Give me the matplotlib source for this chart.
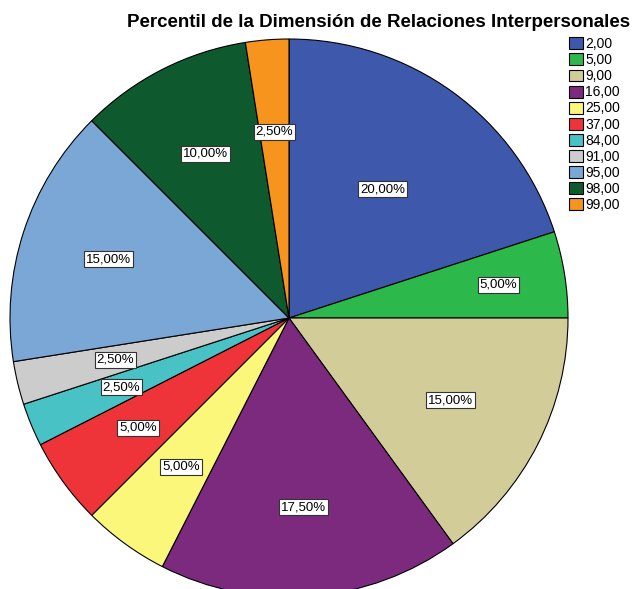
import numpy as np
import matplotlib
matplotlib.use("Agg")
import matplotlib.pyplot as plt

plt.rcParams['font.family'] = ['Liberation Sans', 'DejaVu Sans']

categories = ["2,00", "5,00", "9,00", "16,00", "25,00", "37,00",
              "84,00", "91,00", "95,00", "98,00", "99,00"]
percents = [20.0, 5.0, 15.0, 17.5, 5.0, 5.0, 2.5, 2.5, 15.0, 10.0, 2.5]
colors = ["#3E58AC", "#2DB84B", "#D2CC98", "#7B2A7E", "#FBF77A", "#EF3439",
          "#48C2C5", "#CCCCCC", "#7BA7D6", "#0E5A2E", "#F7941D"]
# radial distance of each percentage label (fraction of radius)
label_dist = [0.57, 0.76, 0.65, 0.68, 0.66, 0.67, 0.65, 0.64, 0.68, 0.66, 0.67]

W, H = 639, 589
fig = plt.figure(figsize=(W / 100, H / 100), dpi=100)
cx, cy, r = 289, 318, 279
ax = fig.add_axes([(cx - r) / W, (H - cy - r) / H, 2 * r / W, 2 * r / H])

wedges, _ = ax.pie(percents, colors=colors, startangle=90, counterclock=False,
                   radius=1.0, wedgeprops=dict(edgecolor="black", linewidth=0.8))
ax.set_aspect('auto')
ax.set_xlim(-1, 1)
ax.set_ylim(-1, 1)
ax.axis('off')

for w, p, d in zip(wedges, percents, label_dist):
    ang = np.deg2rad((w.theta1 + w.theta2) / 2)
    ax.text(d * np.cos(ang), d * np.sin(ang), f"{p:.2f}%".replace(".", ","),
            ha="center", va="center", fontsize=9.5,
            bbox=dict(boxstyle="square,pad=0.15", fc="white", ec="#333333", lw=0.8))

fig.text(0.593, 0.962, "Percentil de la Dimensión de Relaciones Interpersonales",
         ha="center", va="center", fontsize=13.5, fontweight="bold")

leg = fig.legend(wedges, categories, loc="upper left", bbox_to_anchor=(0.891, 0.937),
                 frameon=False, fontsize=10, handlelength=0.95, handleheight=0.95,
                 handletextpad=0.2, labelspacing=0.15, borderpad=0, borderaxespad=0)

fig.savefig("out.png", dpi=100)
